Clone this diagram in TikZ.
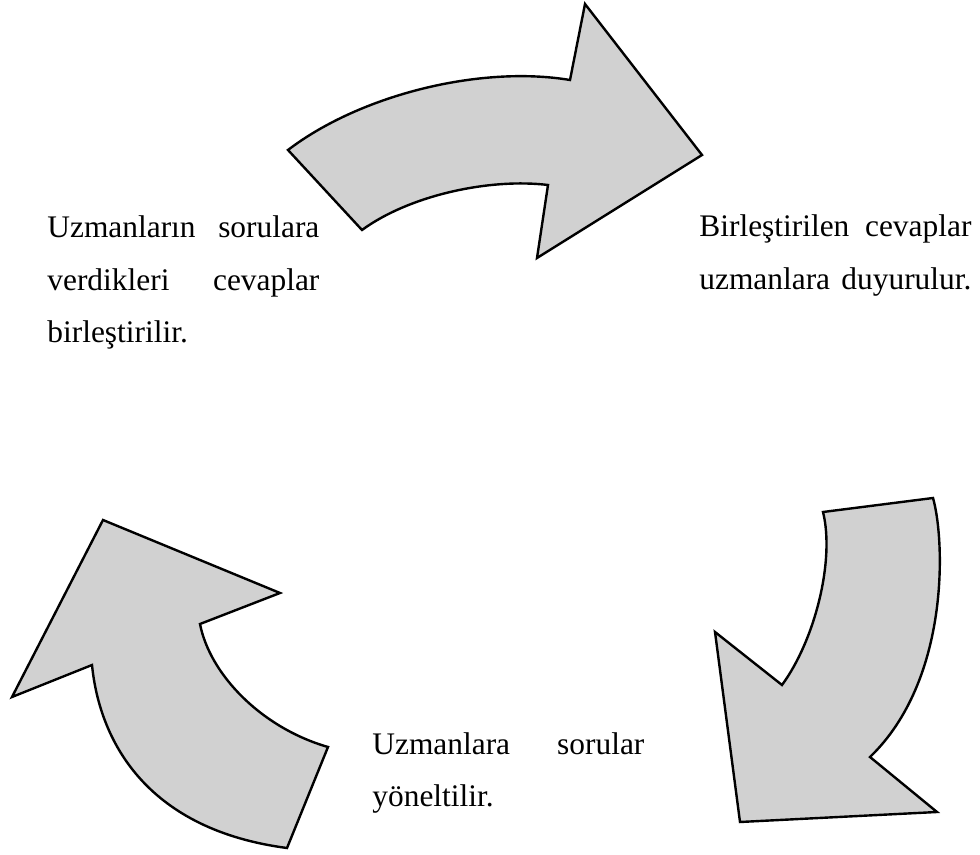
\documentclass[tikz,border=0pt]{standalone}
\usepackage{fontspec}
\setmainfont{Liberation Serif}
\usepackage{tikz}
\usetikzlibrary{positioning}

\newcommand{\fullline}[2]{\makebox[136pt][l]{#1\hfill#2}}

\begin{document}
\begin{tikzpicture}[x=0.5pt,y=-0.5pt,
  blockarrow/.style={draw=black,line width=1.2pt,fill=black!18,line join=miter},
  caption/.style={inner sep=0pt,anchor=base west,align=left,text width=136pt,
    font={\fontsize{15.7}{26.25}\selectfont}}]
  \useasboundingbox (0,0) rectangle (980,855);
  % top arrow
  \draw[blockarrow] (288,150) .. controls (360,95) and (480,65) .. (570,80)
    -- (585,4) -- (702,155) -- (537,258) -- (548,185)
    .. controls (490,178) and (410,195) .. (362,230) -- cycle;
  % right arrow
  \draw[blockarrow] (823,512) -- (933,498)
    .. controls (945,540) and (950,680) .. (870,757)
    -- (937,812) -- (740,822) -- (715,632) -- (782,685)
    .. controls (815,640) and (835,560) .. (823,512) -- cycle;
  % left arrow
  \draw[blockarrow] (287,848) -- (328,747)
    .. controls (262,728) and (210,675) .. (200,624)
    -- (280,593) -- (103,520) -- (12,697) -- (92,665)
    .. controls (100,745) and (150,830) .. (287,848) -- cycle;
  % texts
  \node[caption] (merge) at (47,238)
    {\fullline{Uzmanların}{sorulara}\\\fullline{verdikleri}{cevaplar}\\birleştirilir.};
  \node[caption] (announce) at (699,237)
    {\fullline{Birleştirilen}{cevaplar}\\\fullline{uzmanlara}{duyurulur.}};
  \node[caption] (ask) at (372,754)
    {\fullline{Uzmanlara}{sorular}\\yöneltilir.};
\end{tikzpicture}
\end{document}
